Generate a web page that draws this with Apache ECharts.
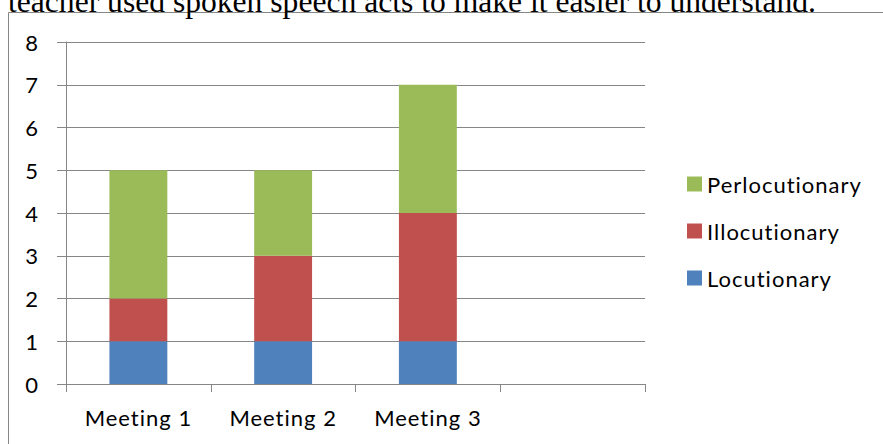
<!DOCTYPE html>
<html>
<head>
<meta charset="utf-8">
<style>
  html, body { margin: 0; padding: 0; background: #ffffff; }
  #chart { width: 883px; height: 444px; }
  #chart text { font-variant-ligatures: none; }
</style>
<script src="https://cdn.jsdelivr.net/npm/echarts@6/dist/echarts.min.js"></script>
</head>
<body>
<div id="chart"></div>
<script>
var categories = ['Meeting 1', 'Meeting 2', 'Meeting 3', ''];
var locutionary = [1, 1, 1, null];
var illocutionary = [1, 2, 3, null];
var perlocutionary = [3, 2, 3, null];
var seriesNames = ['Locutionary', 'Illocutionary', 'Perlocutionary'];
var legendOrder = ['Perlocutionary', 'Illocutionary', 'Locutionary'];
var captionText = 'teacher used spoken speech acts to make it easier to understand.';

var FONT = 'Lato, "Open Sans", sans-serif';
var GRAY = '#868686';

var chart = echarts.init(document.getElementById('chart'), null, { renderer: 'svg' });
chart.setOption({
  animation: false,
  backgroundColor: '#ffffff',
  graphic: [
    {
      type: 'rect',
      shape: { x: 8.5, y: 12.5, width: 900, height: 450 },
      style: { fill: 'none', stroke: GRAY, lineWidth: 1 },
      z: 0
    },
    {
      type: 'text',
      x: 8, y: 1,
      style: {
        text: captionText,
        font: '31.6px "Liberation Serif", "Times New Roman", serif',
        fill: '#000000',
        verticalAlign: 'middle',
        align: 'left'
      }
    }
  ],
  grid: { left: 66, right: 238, top: 42, bottom: 60, containLabel: false },
  legend: {
    orient: 'vertical',
    left: 687,
    top: 173,
    padding: 0,
    itemWidth: 15,
    itemHeight: 15,
    itemGap: 25,
    icon: 'rect',
    data: legendOrder,
    textStyle: { fontFamily: FONT, fontSize: 22, color: '#000000', lineHeight: 22 }
  },
  xAxis: {
    type: 'category',
    data: categories,
    axisLine: { show: true, lineStyle: { color: GRAY, width: 1 } },
    axisTick: { show: true, length: 8, interval: 0, lineStyle: { color: GRAY } },
    axisLabel: { fontFamily: FONT, fontSize: 22, lineHeight: 22, color: '#000000', margin: 22, interval: 0 },
    splitLine: { show: false }
  },
  yAxis: {
    type: 'value',
    min: 0, max: 8, interval: 1,
    axisLine: { show: true, lineStyle: { color: GRAY, width: 1 } },
    axisTick: { show: true, length: 9, lineStyle: { color: GRAY } },
    axisLabel: { fontFamily: FONT, fontSize: 22, color: '#000000', margin: 27 },
    splitLine: { show: true, lineStyle: { color: GRAY, width: 1 } }
  },
  series: [
    { name: seriesNames[0], type: 'bar', stack: 'total', barWidth: '40%', data: locutionary, itemStyle: { color: '#4F81BD' } },
    { name: seriesNames[1], type: 'bar', stack: 'total', barWidth: '40%', data: illocutionary, itemStyle: { color: '#C0504D' } },
    { name: seriesNames[2], type: 'bar', stack: 'total', barWidth: '40%', data: perlocutionary, itemStyle: { color: '#9BBB59' } }
  ]
});
// Widen the chart's sans-serif labels slightly (the reference font is horizontally stretched)
Array.prototype.forEach.call(document.querySelectorAll('#chart text'), function (t) {
  if (t.textContent !== captionText) { t.style.letterSpacing = '1px'; }
});
</script>
</body>
</html>
